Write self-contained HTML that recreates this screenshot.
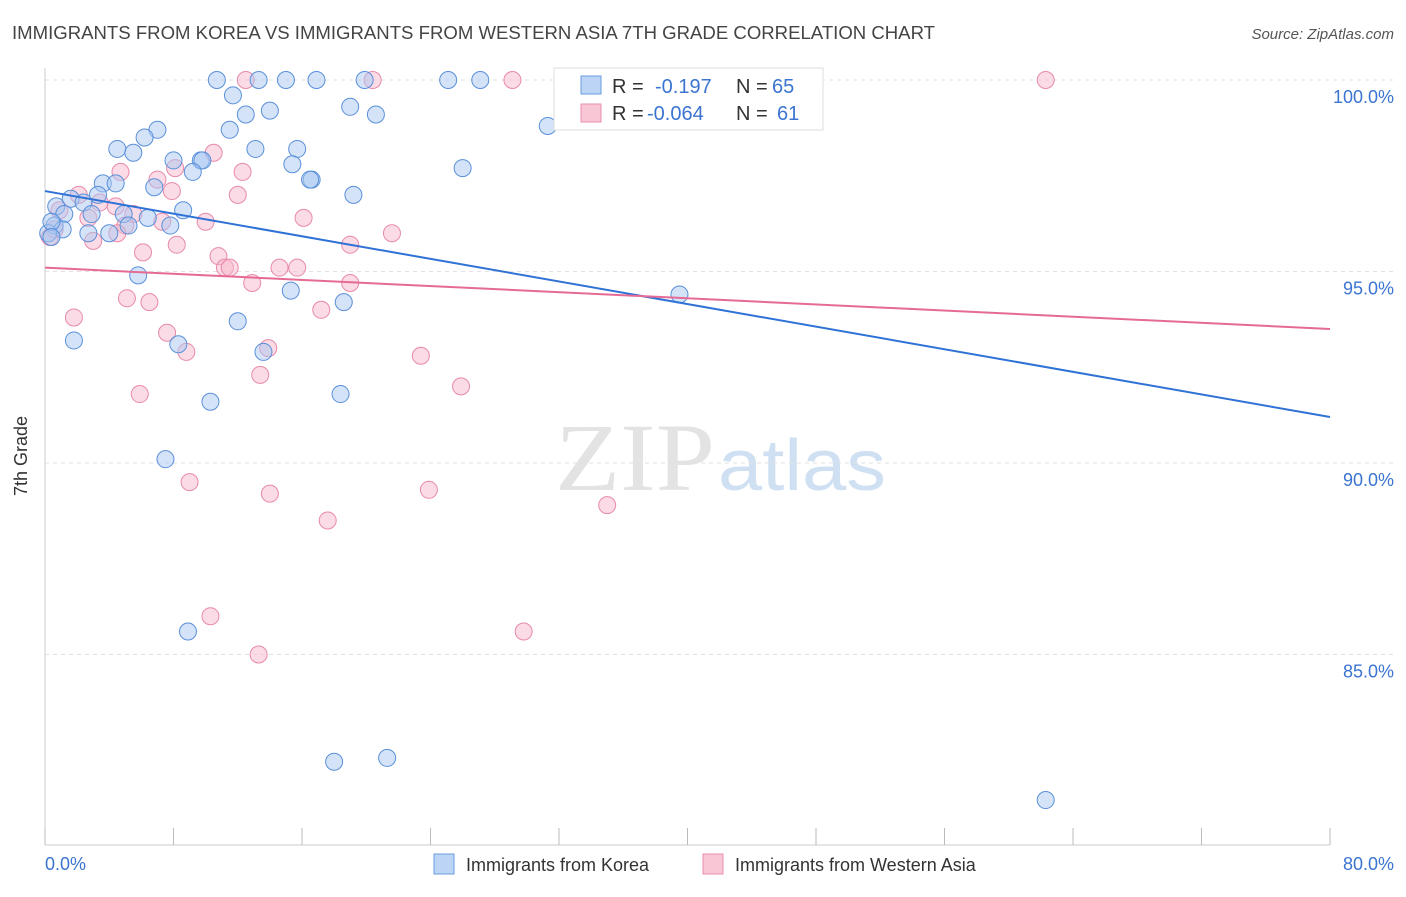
<!DOCTYPE html>
<html><head><meta charset="utf-8"><style>
body{margin:0;background:#fff;font-family:"Liberation Sans",sans-serif;}
</style></head><body>
<svg width="1406" height="892" viewBox="0 0 1406 892">
<text x="12" y="39" font-size="18" fill="#444" textLength="923" lengthAdjust="spacingAndGlyphs">IMMIGRANTS FROM KOREA VS IMMIGRANTS FROM WESTERN ASIA 7TH GRADE CORRELATION CHART</text>
<text x="1394" y="39" font-size="15" fill="#555" font-style="italic" text-anchor="end">Source: ZipAtlas.com</text>
<text x="555" y="490" font-size="96" fill="#e3e3e3" font-family="Liberation Serif,serif" textLength="160" lengthAdjust="spacingAndGlyphs">ZIP</text>
<text x="718" y="490" font-size="72" fill="#d0e0f3" textLength="168" lengthAdjust="spacingAndGlyphs">atlas</text>
<g id="grid"></g>
<line x1="45" y1="68" x2="45" y2="845" stroke="#ccc"/>
<line x1="45" y1="845" x2="1330" y2="845" stroke="#ccc"/>
<g id="xticks"></g>
<text x="27" y="456" font-size="18" fill="#333" transform="rotate(-90 27 456)" text-anchor="middle">7th Grade</text>
<text x="45" y="870" font-size="18" fill="#3b74d1">0.0%</text>
<text x="1394" y="870" font-size="18" fill="#3b74d1" text-anchor="end">80.0%</text>
<g id="points"></g>
<g id="lines"></g>
<g>
<rect x="554" y="68" width="269" height="62" fill="#fff" stroke="#ddd"/>
<rect x="581" y="76" width="20" height="18" fill="#bcd4f5" stroke="#6a9de0"/>
<rect x="581" y="104" width="20" height="18" fill="#f9c6d6" stroke="#ea8fb0"/>
<text y="93" font-size="20" fill="#333"><tspan x="612">R =</tspan><tspan x="655" fill="#3b74d1">-0.197</tspan><tspan x="736">N =</tspan><tspan x="772" fill="#3b74d1">65</tspan></text>
<text y="120" font-size="20" fill="#333"><tspan x="612">R =</tspan><tspan x="647" fill="#3b74d1">-0.064</tspan><tspan x="736">N =</tspan><tspan x="777" fill="#3b74d1">61</tspan></text>
</g>
<g>
<rect x="434" y="854" width="20" height="20" fill="#bcd4f5" stroke="#6a9de0"/>
<text x="466" y="871" font-size="18" fill="#333">Immigrants from Korea</text>
<rect x="703" y="854" width="20" height="20" fill="#f9c6d6" stroke="#ea8fb0"/>
<text x="735" y="871" font-size="18" fill="#333">Immigrants from Western Asia</text>
</g>
</svg>
<script>
const yTicks=[100,95,90,85];
const xTickVals=[0,8,16,24,32,40,48,56,64,72,80];
const koreaX=[10.7,13.3,15,16.9,19.9,25.1,27.1,11.7,19,14,12.5,20.6,7,11.5,31.3,6.2,4.5,5.5,13.1,15.7,8,9.7,9.8,15.4,26,9.2,16.6,16.5,3.6,4.4,6.8,19.2,3.3,8.6,1.6,2.4,0.7,1.2,2.9,4.9,6.4,0.6,1.1,5.2,7.8,2.7,4,0.2,5.8,15.3,18.6,39.5,12,1.8,8.3,13.6,18.4,10.3,7.5,8.9,18,21.3,62.3,0.4,0.4];
const koreaY=[100,100,100,100,100,100,100,99.6,99.3,99.2,99.1,99.1,98.7,98.7,98.8,98.5,98.2,98.1,98.2,98.2,97.9,97.9,97.9,97.8,97.7,97.6,97.4,97.4,97.3,97.3,97.2,97,97,96.6,96.9,96.8,96.7,96.5,96.5,96.5,96.4,96.2,96.1,96.2,96.2,96,96,96,94.9,94.5,94.2,94.4,93.7,93.2,93.1,92.9,91.8,91.6,90.1,85.6,82.2,82.3,81.2,96.3,95.9];
const asiaX=[12.5,20.4,29.1,42.4,62.3,10.5,8.1,4.7,7,12.3,7.9,12,2.1,3.4,4.4,0.9,5.5,7.3,10,16.1,5,2.7,4.5,3,21.6,19,8.2,6.1,10.8,11.2,11.5,14.6,15.7,19,12.9,5.1,6.5,17.2,1.8,7.6,13.9,8.8,23.4,13.4,25.9,5.9,9,14,23.9,17.6,35,10.3,29.8,13.3,0.3,0.6];
const asiaY=[100,100,100,100,100,98.1,97.7,97.6,97.4,97.6,97.1,97,97,96.8,96.7,96.6,96.5,96.3,96.3,96.4,96.2,96.4,96,95.8,96,95.7,95.7,95.5,95.4,95.1,95.1,95.1,95.1,94.7,94.7,94.3,94.2,94,93.8,93.4,93,92.9,92.8,92.3,92,91.8,89.5,89.2,89.3,88.5,88.9,86,85.6,85,95.9,96.1];
const koreaTrend=[97.1,91.2];
const asiaTrend=[95.1,93.5];
const X=v=>45+v/80*1285, Y=v=>80+(100-v)*38.3;
const NS='http://www.w3.org/2000/svg';
function mk(t,a,p){const e=document.createElementNS(NS,t);for(const k in a)e.setAttribute(k,a[k]);document.getElementById(p).appendChild(e);return e;}
yTicks.forEach(v=>{
const l=mk('line',{x1:45,x2:1394,y1:Y(v),y2:Y(v),stroke:'#e2e2e2','stroke-dasharray':'4 4'},'grid');


const t=mk('text',{x:1394,y:Y(v)+23,'font-size':18,fill:'#3b74d1','text-anchor':'end'},'grid');
t.textContent=v.toFixed(1)+'%';


});
xTickVals.forEach(v=>{
const l=mk('line',{x1:X(v),x2:X(v),y1:828,y2:845,stroke:'#bbb'},'xticks');


});
function pts(xs,ys,fill,stroke,name){xs.forEach((x,i)=>{
const c=mk('circle',{cx:X(x),cy:Y(ys[i]),r:8.5,fill:fill,'fill-opacity':0.5,stroke:stroke,'stroke-width':1},'points');


});}
pts(asiaX,asiaY,'#f7b8cc','#e88aaa','western-asia-point');
pts(koreaX,koreaY,'#a9c8f2','#5a90da','korea-point');
const l1=mk('line',{x1:X(0),y1:Y(koreaTrend[0]),x2:X(80),y2:Y(koreaTrend[1]),stroke:'#2f72d6','stroke-width':2},'lines');


const l2=mk('line',{x1:X(0),y1:Y(asiaTrend[0]),x2:X(80),y2:Y(asiaTrend[1]),stroke:'#e56b94','stroke-width':2},'lines');


</script>
</body></html>
